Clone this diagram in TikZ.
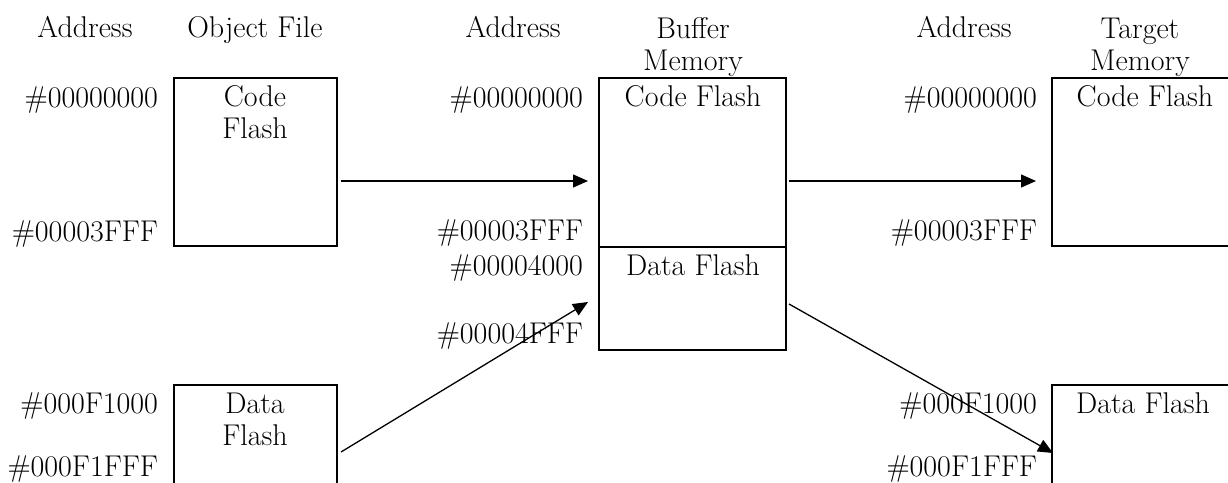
\documentclass[tikz,border=0pt]{standalone}
\usetikzlibrary{arrows.meta}
\begin{document}
\begin{tikzpicture}[x=1pt,y=-1pt,
  every node/.style={font=\fontsize{30}{32}\selectfont, inner sep=0pt, outer sep=0pt},
  addr/.style={anchor=base east},
  txt/.style={anchor=base, align=center},
  memblock/.style={draw, line width=1.6pt, anchor=north west},
  flow/.style={line width=1.3pt, -{Triangle[length=15pt,width=13pt]}}
]
\useasboundingbox (0,0) rectangle (1228,482);
\clip (0,0) rectangle (1228,482);

% column headers (base = last line)
\node[txt] (h1) at (85,37) {Address};
\node[txt] (h2) at (255,37) {Object File};
\node[txt] (h3) at (513,37) {Address};
\node[txt] (h4) at (693,70) {Buffer\\Memory};
\node[txt] (h5) at (964,37) {Address};
\node[txt] (h6) at (1140,70) {Target\\Memory};

% object file blocks
\node[memblock, minimum width=163pt, minimum height=168pt] (objcode) at (174,78) {};
\node[memblock, minimum width=163pt, minimum height=200pt] (objdata) at (174,385) {};
\node[txt] (objcodet) at (255,138) {Code\\Flash};
\node[txt] (objdatat) at (255,445) {Data\\Flash};

% buffer memory blocks
\node[memblock, minimum width=187pt, minimum height=169pt] (bufcode) at (599,78) {};
\node[memblock, minimum width=187pt, minimum height=103pt] (bufdata) at (599,247) {};
\node[txt] (bufcodet) at (693,106) {Code Flash};
\node[txt] (bufdatat) at (693,275) {Data Flash};

% target memory blocks
\node[memblock, minimum width=250pt, minimum height=168pt] (tgtcode) at (1052,78) {};
\node[memblock, minimum width=250pt, minimum height=200pt] (tgtdata) at (1052,385) {};
\node[txt] (tgtcodet) at (1145,106) {Code Flash};
\node[txt] (tgtdatat) at (1143,413) {Data Flash};

% addresses
\node[addr] (a1) at (158,107) {\#00000000};
\node[addr] (a2) at (158,241) {\#00003FFF};
\node[addr] (a3) at (158,413) {\#000F1000};
\node[addr] (a4) at (158,476) {\#000F1FFF};
\node[addr] (b1) at (583,107) {\#00000000};
\node[addr] (b2) at (583,240) {\#00003FFF};
\node[addr] (b3) at (583,275) {\#00004000};
\node[addr] (b4) at (583,343) {\#00004FFF};
\node[addr] (c1) at (1037,107) {\#00000000};
\node[addr] (c2) at (1037,240) {\#00003FFF};
\node[addr] (c3) at (1037,413) {\#000F1000};
\node[addr] (c4) at (1037,476) {\#000F1FFF};

% arrow ends
\coordinate (p1s) at (341,181);
\coordinate (p1e) at (588,181);
\coordinate (p2s) at (341,452);
\coordinate (p2e) at (588,302);
\coordinate (p3s) at (789,181);
\coordinate (p3e) at (1036,181);
\coordinate (p4s) at (789,304);
\coordinate (p4e) at (1053,453);

\draw[flow] (p1s) -- (p1e);
\draw[flow] (p2s) -- (p2e);
\draw[flow] (p3s) -- (p3e);
\draw[flow] (p4s) -- (p4e);
\end{tikzpicture}
\end{document}
